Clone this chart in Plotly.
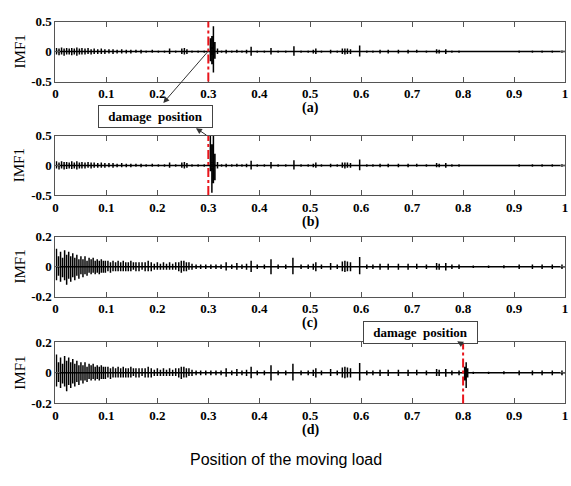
import plotly.graph_objects as go

# ---- IMF1 signals along the beam, summarised as oscillation peaks ----
# Each panel: peak positions (normalised load position) with upper / lower excursions.

# (a) and (b) share the sampling positions
AB_POS = [
    0.002, 0.007, 0.012, 0.017, 0.022, 0.027, 0.032, 0.037, 0.042, 0.047,
    0.052, 0.058, 0.064, 0.070, 0.076, 0.083, 0.090, 0.097, 0.105, 0.113,
    0.121, 0.130, 0.139, 0.148, 0.158, 0.168, 0.178, 0.190, 0.202, 0.214,
    0.224, 0.236, 0.248, 0.253, 0.258, 0.268, 0.280, 0.292, 0.304, 0.307,
    0.310, 0.313, 0.318, 0.326, 0.335, 0.346, 0.356, 0.366, 0.375, 0.384,
    0.396, 0.410, 0.423, 0.437, 0.452, 0.468, 0.482, 0.496, 0.506, 0.511,
    0.522, 0.540, 0.553, 0.563, 0.568, 0.573, 0.579, 0.597, 0.611, 0.623,
    0.637, 0.653, 0.673, 0.692, 0.709, 0.728, 0.748, 0.753, 0.766, 0.778,
    0.792, 0.820, 0.850, 0.880, 0.910, 0.936, 0.955, 0.975, 0.994,
]
A_HI = [
    0.06, 0.05, 0.07, 0.05, 0.06, 0.05, 0.06, 0.05, 0.07, 0.05,
    0.06, 0.05, 0.06, 0.04, 0.05, 0.04, 0.05, 0.04, 0.04, 0.04,
    0.03, 0.04, 0.03, 0.03, 0.03, 0.03, 0.02, 0.03, 0.02, 0.02,
    0.05, 0.02, 0.05, 0.06, 0.04, 0.02, 0.02, 0.02, 0.22, 0.26,
    0.42, 0.16, 0.05, 0.02, 0.03, 0.02, 0.03, 0.02, 0.03, 0.08,
    0.02, 0.02, 0.06, 0.02, 0.02, 0.09, 0.02, 0.02, 0.03, 0.05,
    0.02, 0.03, 0.02, 0.05, 0.05, 0.05, 0.04, 0.10, 0.02, 0.02,
    0.03, 0.03, 0.03, 0.03, 0.03, 0.02, 0.04, 0.03, 0.04, 0.02,
    0.02, 0.01, 0.01, 0.01, 0.02, 0.02, 0.02, 0.02, 0.02,
]
A_LO = [
    -0.05, -0.06, -0.05, -0.07, -0.05, -0.05, -0.06, -0.05, -0.07, -0.05,
    -0.05, -0.05, -0.04, -0.05, -0.04, -0.04, -0.04, -0.04, -0.03, -0.04,
    -0.03, -0.03, -0.03, -0.03, -0.02, -0.03, -0.02, -0.02, -0.02, -0.02,
    -0.04, -0.02, -0.04, -0.05, -0.04, -0.02, -0.02, -0.02, -0.16, -0.21,
    -0.35, -0.12, -0.04, -0.02, -0.03, -0.02, -0.02, -0.02, -0.03, -0.07,
    -0.02, -0.02, -0.05, -0.02, -0.02, -0.07, -0.02, -0.02, -0.03, -0.04,
    -0.02, -0.03, -0.02, -0.04, -0.05, -0.04, -0.04, -0.08, -0.02, -0.02,
    -0.03, -0.03, -0.03, -0.03, -0.02, -0.02, -0.03, -0.03, -0.04, -0.02,
    -0.02, -0.01, -0.01, -0.01, -0.02, -0.02, -0.02, -0.02, -0.02,
]
B_HI = [
    0.07, 0.05, 0.07, 0.06, 0.06, 0.05, 0.07, 0.05, 0.07, 0.05,
    0.06, 0.05, 0.06, 0.05, 0.05, 0.04, 0.05, 0.04, 0.04, 0.04,
    0.03, 0.04, 0.03, 0.03, 0.03, 0.03, 0.02, 0.03, 0.02, 0.02,
    0.05, 0.02, 0.05, 0.06, 0.04, 0.02, 0.02, 0.02, 0.50, 0.36,
    0.50, 0.20, 0.06, 0.02, 0.03, 0.02, 0.03, 0.02, 0.03, 0.08,
    0.02, 0.02, 0.06, 0.02, 0.02, 0.09, 0.02, 0.02, 0.03, 0.05,
    0.02, 0.03, 0.02, 0.05, 0.05, 0.05, 0.04, 0.10, 0.02, 0.02,
    0.03, 0.03, 0.03, 0.03, 0.03, 0.02, 0.04, 0.03, 0.04, 0.02,
    0.02, 0.01, 0.01, 0.01, 0.02, 0.02, 0.02, 0.02, 0.02,
]
B_LO = [
    -0.05, -0.07, -0.05, -0.07, -0.06, -0.05, -0.06, -0.05, -0.07, -0.05,
    -0.05, -0.05, -0.04, -0.05, -0.04, -0.04, -0.04, -0.04, -0.03, -0.04,
    -0.03, -0.03, -0.03, -0.03, -0.02, -0.03, -0.02, -0.02, -0.02, -0.02,
    -0.04, -0.02, -0.04, -0.05, -0.04, -0.02, -0.02, -0.02, -0.10, -0.46,
    -0.30, -0.25, -0.05, -0.02, -0.03, -0.02, -0.02, -0.02, -0.03, -0.07,
    -0.02, -0.02, -0.05, -0.02, -0.02, -0.07, -0.02, -0.02, -0.03, -0.04,
    -0.02, -0.03, -0.02, -0.04, -0.05, -0.04, -0.04, -0.08, -0.02, -0.02,
    -0.03, -0.03, -0.03, -0.03, -0.02, -0.02, -0.03, -0.03, -0.04, -0.02,
    -0.02, -0.01, -0.01, -0.01, -0.02, -0.02, -0.02, -0.02, -0.02,
]

# (c) intact-beam reference, (d) = (c) plus the response at the damage
C_POS = [
    0.002, 0.006, 0.010, 0.014, 0.018, 0.022, 0.026, 0.030, 0.034, 0.038,
    0.042, 0.046, 0.050, 0.054, 0.058, 0.062, 0.066, 0.070, 0.074, 0.078,
    0.082, 0.086, 0.090, 0.094, 0.098, 0.103, 0.108, 0.113, 0.118, 0.123,
    0.128, 0.133, 0.138, 0.143, 0.148, 0.153, 0.158, 0.164, 0.170, 0.176,
    0.182, 0.188, 0.194, 0.200, 0.206, 0.212, 0.218, 0.224, 0.230, 0.236,
    0.242, 0.247, 0.252, 0.257, 0.262, 0.268, 0.276, 0.285, 0.295, 0.305,
    0.315, 0.325, 0.335, 0.346, 0.356, 0.366, 0.375, 0.384, 0.396, 0.410,
    0.423, 0.437, 0.452, 0.466, 0.482, 0.496, 0.506, 0.511, 0.522, 0.540,
    0.553, 0.563, 0.568, 0.573, 0.579, 0.597, 0.611, 0.623, 0.637, 0.653,
    0.673, 0.692, 0.709, 0.728, 0.748, 0.753, 0.766, 0.778, 0.792, 0.820,
    0.850, 0.880, 0.910, 0.936, 0.955, 0.975, 0.994,
]
C_HI = [
    0.12, 0.07, 0.10, 0.06, 0.11, 0.08, 0.10, 0.07, 0.09, 0.06,
    0.08, 0.05, 0.07, 0.05, 0.07, 0.04, 0.06, 0.05, 0.06, 0.04,
    0.05, 0.04, 0.05, 0.04, 0.04, 0.04, 0.03, 0.04, 0.03, 0.04,
    0.03, 0.04, 0.03, 0.03, 0.04, 0.03, 0.03, 0.03, 0.03, 0.03,
    0.04, 0.03, 0.02, 0.03, 0.02, 0.03, 0.02, 0.03, 0.02, 0.03,
    0.03, 0.04, 0.04, 0.03, 0.03, 0.02, 0.015, 0.015, 0.015, 0.015,
    0.015, 0.015, 0.03, 0.015, 0.025, 0.015, 0.02, 0.04, 0.015, 0.015,
    0.05, 0.015, 0.015, 0.06, 0.015, 0.015, 0.02, 0.03, 0.015, 0.025,
    0.015, 0.035, 0.04, 0.035, 0.03, 0.065, 0.015, 0.015, 0.02, 0.02,
    0.02, 0.02, 0.02, 0.015, 0.025, 0.02, 0.025, 0.015, 0.015, 0.008,
    0.008, 0.01, 0.015, 0.015, 0.015, 0.015, 0.015,
]
C_LO = [
    -0.09, -0.06, -0.10, -0.07, -0.09, -0.12, -0.08, -0.10, -0.07, -0.09,
    -0.06, -0.08, -0.05, -0.07, -0.05, -0.06, -0.04, -0.05, -0.04, -0.05,
    -0.04, -0.05, -0.04, -0.04, -0.04, -0.03, -0.04, -0.03, -0.03, -0.03,
    -0.03, -0.03, -0.03, -0.03, -0.03, -0.02, -0.03, -0.03, -0.02, -0.03,
    -0.03, -0.03, -0.02, -0.02, -0.02, -0.02, -0.02, -0.02, -0.02, -0.02,
    -0.03, -0.04, -0.03, -0.03, -0.02, -0.02, -0.015, -0.015, -0.015, -0.015,
    -0.015, -0.015, -0.025, -0.015, -0.02, -0.015, -0.02, -0.035, -0.015, -0.015,
    -0.05, -0.015, -0.015, -0.05, -0.015, -0.015, -0.02, -0.03, -0.015, -0.02,
    -0.015, -0.03, -0.035, -0.03, -0.03, -0.05, -0.015, -0.015, -0.02, -0.02,
    -0.02, -0.02, -0.015, -0.015, -0.02, -0.02, -0.025, -0.015, -0.015, -0.008,
    -0.008, -0.01, -0.015, -0.015, -0.015, -0.015, -0.015,
]
D_EXTRA_POS = [0.803, 0.806, 0.809]
D_EXTRA_HI = [0.04, 0.07, 0.03]
D_EXTRA_LO = [-0.05, -0.10, -0.03]

# damage locations marked with red dash-dot lines
DAMAGE_A = 0.3
DAMAGE_B = 0.3
DAMAGE_D = 0.8

PANEL_LABELS = ["(a)", "(b)", "(c)", "(d)"]
X_TICKS = [0, 0.1, 0.2, 0.3, 0.4, 0.5, 0.6, 0.7, 0.8, 0.9, 1]
X_TICKTEXT = ["0", "0.1", "0.2", "0.3", "0.4", "0.5", "0.6", "0.7", "0.8", "0.9", "1"]
Y_LIM = [0.5, 0.5, 0.2, 0.2]

W, H = 571, 486
X_DOM = [53 / W, 568 / W]
# plot-area top/bottom and panel-label height, in pixels, for each panel
PANEL_PX = [(15, 77), (133, 194), (237, 299), (346, 409)]
LABEL_PX = [104, 222, 326, 436]


def trace_path(pos, hi, lo):
    """Baseline at zero with a vertical stroke at every oscillation peak."""
    xs, ys = [0.0], [0.0]
    for p, h, l in sorted(zip(pos, hi, lo)):
        xs += [p, p, p, p]
        ys += [0.0, h, l, 0.0]
    xs.append(1.0)
    ys.append(0.0)
    return xs, ys


signals = [
    (AB_POS, A_HI, A_LO),
    (AB_POS, B_HI, B_LO),
    (C_POS, C_HI, C_LO),
    (C_POS + D_EXTRA_POS, C_HI + D_EXTRA_HI, C_LO + D_EXTRA_LO),
]

fig = go.Figure()
serif = "Liberation Serif, Times New Roman, serif"
tick_font = dict(family=serif, size=13, color="black", weight="bold")
axis_col = "#555555"

for i, (pos, hi, lo) in enumerate(signals):
    n = "" if i == 0 else str(i + 1)
    xs, ys = trace_path(pos, hi, lo)
    fig.add_trace(go.Scatter(x=xs, y=ys, mode="lines",
                             line=dict(color="black", width=1.5),
                             xaxis="x" + n, yaxis="y" + n, showlegend=False,
                             hoverinfo="skip"))
    top, bot = PANEL_PX[i]
    lim = Y_LIM[i]
    fig.layout["xaxis" + n] = dict(
        domain=X_DOM, anchor="y" + n, range=[0, 1], tickvals=X_TICKS,
        ticktext=X_TICKTEXT, ticks="inside", ticklen=5, tickcolor=axis_col,
        showline=True, linecolor=axis_col, linewidth=1, mirror="ticks",
        showgrid=False, zeroline=False, tickfont=tick_font, fixedrange=True,
        ticklabeloverflow="allow")
    fig.layout["yaxis" + n] = dict(
        domain=[1 - bot / H, 1 - top / H], anchor="x" + n, range=[-lim, lim],
        tickvals=[-lim, 0, lim], ticktext=[f"-{lim:g}", "0", f"{lim:g}"],
        ticks="inside", ticklen=5, tickcolor=axis_col,
        showline=True, linecolor=axis_col, linewidth=1, mirror="ticks",
        showgrid=False, zeroline=False, tickfont=tick_font, fixedrange=True)
    # y-axis title
    fig.add_annotation(text="IMF1", xref="paper", yref="paper",
                       x=17 / W, y=1 - (top + bot) / 2 / H, textangle=-90,
                       showarrow=False, xanchor="center", yanchor="middle",
                       font=dict(family=serif, size=15, color="black"))
    # panel label
    fig.add_annotation(text=PANEL_LABELS[i], xref="x" + n + " domain", yref="paper",
                       x=0.5, y=1 - LABEL_PX[i] / H, showarrow=False,
                       xanchor="center", yanchor="middle",
                       font=dict(family=serif, size=14, color="black", weight="bold"))

# red dash-dot damage markers
for n, xv in [("", DAMAGE_A), ("2", DAMAGE_B), ("4", DAMAGE_D)]:
    fig.add_shape(type="line", xref="x" + n, yref="y" + n + " domain",
                  x0=xv, x1=xv, y0=0, y1=1,
                  line=dict(color="#e8141b", width=2, dash="dashdot"))

box_font = dict(family=serif, size=13, color="black", weight="bold")
# label boxes: between panels (a)/(b) and above panel (d)
for cx, cy in [(154.5, 113), (422, 336)]:
    fig.add_annotation(text="damage  position", xref="paper", yref="paper",
                       x=cx / W, y=1 - cy / H, xanchor="center", yanchor="middle",
                       showarrow=False, width=111, height=19, borderpad=1,
                       bordercolor="#444", borderwidth=1, bgcolor="white",
                       font=box_font)

# pointer arrows (head at the box, tail at the damage location)
arrows = [((162, 99), (208, 46)), ((195, 125), (207, 133)), ((459, 345), (466, 349))]
for (hx, hy), (tx, ty) in arrows:
    fig.add_annotation(text="", xref="paper", yref="paper",
                       x=hx / W, y=1 - hy / H, ax=tx - hx, ay=ty - hy,
                       axref="pixel", ayref="pixel", showarrow=True,
                       arrowhead=2, arrowsize=1.2, arrowwidth=1,
                       arrowcolor="#333", standoff=0, startstandoff=0)

fig.add_annotation(text="Position of the moving load", xref="paper", yref="paper",
                   x=286 / W, y=1 - 467 / H, showarrow=False,
                   xanchor="center", yanchor="middle",
                   font=dict(family="Liberation Sans, Arial, sans-serif",
                             size=16, color="black"))

fig.update_layout(width=W, height=H, margin=dict(l=0, r=0, t=0, b=0),
                  paper_bgcolor="white", plot_bgcolor="white")

fig.write_html("out.html")
